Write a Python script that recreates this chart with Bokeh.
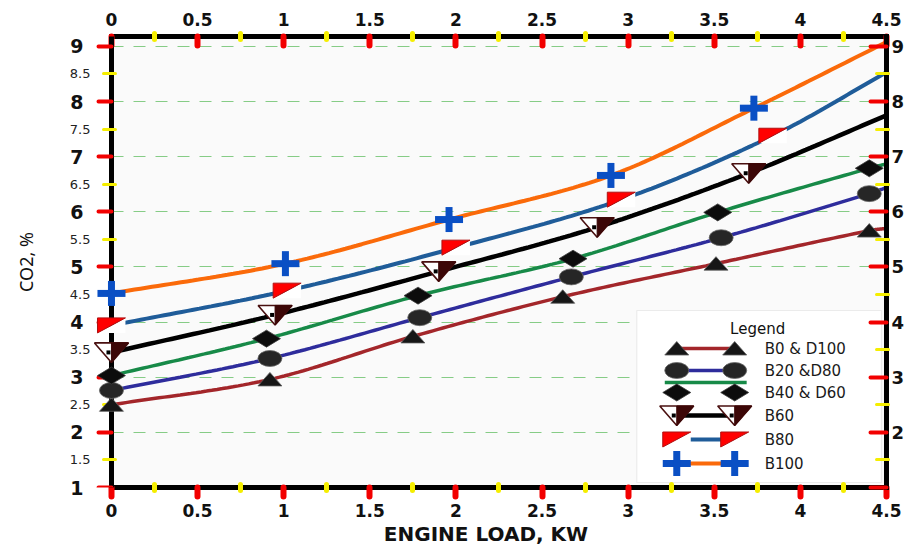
import numpy as np
from bokeh.core.properties import value
from bokeh.embed import file_html
from bokeh.models import (BoxAnnotation, ColumnDataSource, FixedTicker, Label,
                          LabelSet, LinearAxis, Range1d)
from bokeh.plotting import figure
from bokeh.resources import INLINE

# ---- CO2 (%) against engine load (kW) for each fuel blend ----
# the last point of every series lies on the 4.5 kW edge and carries no marker
b0_load = [0.0, 0.92, 1.75, 2.62, 3.51, 4.40, 4.50]
b0_co2 = [2.50, 2.96, 3.74, 4.46, 5.06, 5.66, 5.70]
b20_load = [0.0, 0.92, 1.79, 2.67, 3.54, 4.40, 4.50]
b20_co2 = [2.76, 3.34, 4.08, 4.82, 5.53, 6.33, 6.44]
b40_load = [0.0, 0.90, 1.78, 2.68, 3.52, 4.40, 4.50]
b40_co2 = [3.03, 3.70, 4.48, 5.15, 5.99, 6.79, 6.87]
b60_load = [0.0, 0.95, 1.90, 2.82, 3.70, 4.50]
b60_co2 = [3.45, 4.13, 4.92, 5.72, 6.70, 7.75]
b80_load = [0.0, 1.02, 2.00, 2.96, 3.84, 4.50]
b80_co2 = [3.94, 4.57, 5.35, 6.22, 7.38, 8.53]
b100_load = [0.0, 1.01, 1.96, 2.90, 3.73, 4.50]
b100_co2 = [4.52, 5.06, 5.86, 6.66, 7.88, 9.08]

series_names = ["B0 & D100", "B20 &D80", "B40 & D60", "B60", "B80", "B100"]

x_ticks = [0, 0.5, 1, 1.5, 2, 2.5, 3, 3.5, 4, 4.5]
x_tick_labels = ["0", "0.5", "1", "1.5", "2", "2.5", "3", "3.5", "4", "4.5"]
x_minor_ticks = [0.25, 0.75, 1.25, 1.75, 2.25, 2.75, 3.25, 3.75, 4.25]
y_ticks = [1, 2, 3, 4, 5, 6, 7, 8, 9]
y_tick_labels = ["1", "2", "3", "4", "5", "6", "7", "8", "9"]
y_half_ticks = [1.5, 2.5, 3.5, 4.5, 5.5, 6.5, 7.5, 8.5]
y_half_labels = ["1.5", "2.5", "3.5", "4.5", "5.5", "6.5", "7.5", "8.5"]
y_right_labels = ["", "2", "3", "4", "5", "6", "7", "8", "9"]

# ---- layout ----
W, H = 907, 548
PAD_L = 26                  # room left of the 0 kW line so edge markers show whole
BL, BR, BT, BB = 111 - PAD_L, 20, 36, 61
FW, FH = W - BL - BR, H - BT - BB
X_LO, X_HI = 0.0, 4.5
Y0, Y1 = 1.0, 9.18
UX = (X_HI - X_LO) / (FW - PAD_L)      # data units per screen pixel
UY = (Y1 - Y0) / FH
X_START = X_LO - PAD_L * UX

TICK_FONT = "DejaVu Sans"
RED, YELLOW = "#F20000", "#F5EE00"
INK = "#111111"

p = figure(width=W, height=H, x_range=Range1d(X_START, X_HI), y_range=Range1d(Y0, Y1),
           output_backend="svg", toolbar_location=None,
           min_border_left=BL, min_border_right=BR,
           min_border_top=BT, min_border_bottom=BB)
p.background_fill_color = "white"
p.border_fill_color = "white"
p.outline_line_color = None
p.xgrid.visible = False

# light plot area between the axes
p.add_layout(BoxAnnotation(left=X_LO, right=X_HI, fill_color="#FAFAFA",
                           fill_alpha=1.0, line_color=None, level="image"))

p.ygrid.ticker = FixedTicker(ticks=y_ticks[1:])
p.ygrid.cross_bounds = (X_LO, X_HI)
p.ygrid.grid_line_color = "#86CC86"
p.ygrid.grid_line_width = 1.2
p.ygrid.grid_line_dash = "12 10"


def style_axis(ax, major_in, major_out, major_w, minor_in, minor_out, minor_w,
               major_color=RED, minor_color=YELLOW):
    ax.axis_line_color = "black"
    ax.axis_line_width = 5
    ax.axis_line_cap = "square"
    ax.major_tick_line_color = major_color
    ax.major_tick_line_width = major_w
    ax.major_tick_line_cap = "round"
    ax.major_tick_in = major_in
    ax.major_tick_out = major_out
    ax.minor_tick_line_color = minor_color
    ax.minor_tick_line_width = minor_w
    ax.minor_tick_line_cap = "round"
    ax.minor_tick_in = minor_in
    ax.minor_tick_out = minor_out
    ax.major_label_text_font = TICK_FONT
    ax.major_label_text_font_style = "bold"
    ax.major_label_text_color = INK


def label_only_axis(ticks, labels, size, style, standoff):
    ax = LinearAxis(ticker=FixedTicker(ticks=ticks, minor_ticks=[]),
                    major_label_overrides=dict(zip(ticks, labels)))
    ax.axis_line_color = None
    ax.major_tick_line_color = None
    ax.major_tick_in = 0
    ax.major_tick_out = 0
    ax.minor_tick_line_color = None
    ax.major_label_text_font = TICK_FONT
    ax.major_label_text_font_style = style
    ax.major_label_text_font_size = size
    ax.major_label_text_color = INK
    ax.major_label_standoff = standoff
    return ax


x_over = dict(zip(x_ticks, x_tick_labels))

# bottom axis with the axis title
xb = p.xaxis[0]
xb.ticker = FixedTicker(ticks=x_ticks, minor_ticks=x_minor_ticks)
xb.bounds = (X_LO, X_HI)
xb.major_label_overrides = x_over
style_axis(xb, 0, 9, 6, 3, 3, 5)
xb.major_label_text_font_size = "17px"
xb.major_label_standoff = 7
xb.axis_label = "ENGINE LOAD, KW"
xb.axis_label_text_font = TICK_FONT
xb.axis_label_text_font_size = "20px"
xb.axis_label_text_font_style = "bold"
xb.axis_label_text_color = INK
xb.axis_label_standoff = 2

# top axis
xt = LinearAxis(ticker=FixedTicker(ticks=x_ticks, minor_ticks=x_minor_ticks),
                major_label_overrides=x_over, bounds=(X_LO, X_HI))
style_axis(xt, 9, 0, 6, 3, 3, 5)
xt.major_label_text_font_size = "17px"
xt.major_label_standoff = 8
p.add_layout(xt, "above")

# left side: the axis line sits on the 0 kW line with yellow half-unit ticks
# and red whole-unit ticks; two label axes carry the half-unit and the bold
# whole-unit labels
yl = p.yaxis[0]
yl.fixed_location = X_LO
yl.ticker = FixedTicker(ticks=y_half_ticks, minor_ticks=y_ticks)
yl.major_label_overrides = {t: "" for t in y_half_ticks}
style_axis(yl, 4, 8, 3, 0, 13, 4, major_color=YELLOW, minor_color=RED)
yl.major_label_text_font_size = "1px"
yl.major_label_standoff = 0

yh = label_only_axis(y_half_ticks, y_half_labels, "13px", "normal", -5)
yh.major_label_text_color = "#222222"
p.add_layout(yh, "left")

yo = label_only_axis(y_ticks, y_tick_labels, "19px", "bold", -17)
yo.axis_label = "CO2, %"
yo.axis_label_text_font = "Noto Sans"
yo.axis_label_text_font_size = "18px"
yo.axis_label_text_font_style = "normal"
yo.axis_label_text_color = INK
yo.axis_label_standoff = 29
p.add_layout(yo, "left")

# right axis: ticks drawn inward, bold whole-unit labels
yr = LinearAxis(ticker=FixedTicker(ticks=y_ticks, minor_ticks=y_half_ticks),
                major_label_overrides=dict(zip(y_ticks, y_right_labels)))
style_axis(yr, 16, 0, 4, 10, 2, 3)
yr.major_label_text_font_size = "18px"
yr.major_label_standoff = 3
p.add_layout(yr, "right")


# ---- smooth curves through the points (cubic Hermite in x) ----
def smooth(xs, ys, steps=30):
    x = np.asarray(xs, float)
    y = np.asarray(ys, float)
    n = len(x)
    m = np.empty(n)
    m[0] = (y[1] - y[0]) / (x[1] - x[0])
    m[-1] = (y[-1] - y[-2]) / (x[-1] - x[-2])
    for i in range(1, n - 1):
        m[i] = (y[i + 1] - y[i - 1]) / (x[i + 1] - x[i - 1])
    cx, cy = [], []
    for i in range(n - 1):
        h = x[i + 1] - x[i]
        t = np.linspace(0, 1, steps, endpoint=(i == n - 2))
        h00 = 2 * t**3 - 3 * t**2 + 1
        h10 = t**3 - 2 * t**2 + t
        h01 = -2 * t**3 + 3 * t**2
        h11 = t**3 - t**2
        cx.extend(x[i] + t * h)
        cy.extend(h00 * y[i] + h10 * h * m[i] + h01 * y[i + 1] + h11 * h * m[i + 1])
    return cx, cy


# ---- marker outlines, given in screen pixels around each point ----
TRI = [(-12, -6.5), (12, -6.5), (0, 7)]
DIAMOND = [(-14, 0), (0, 8.5), (14, 0), (0, -8.5)]
INV_TRI = [(-17, 9.5), (17, 9.5), (0, -10)]
INV_TRI_RIGHT = [(0, 9.5), (17, 9.5), (0, -10)]
FLAG_RED = [(-14, 7.5), (14, 7.5), (-14, -7.5)]
FLAG_WHITE = [(14, 7.5), (14, -7.5), (-14, -7.5)]
TOP = dict(level="overlay")   # markers sit on top of the axis lines


def polys(xs, ys, pts):
    px = [[x + ox * UX for ox, _ in pts] for x in xs]
    py = [[y + oy * UY for _, oy in pts] for y in ys]
    return dict(xs=px, ys=py)


def draw_marker(kind, xs, ys):
    if kind == "triangle":
        p.patches("xs", "ys", source=ColumnDataSource(polys(xs, ys, TRI)),
                  fill_color="#161616", line_color="#5a5a5a", line_width=0.8, **TOP)
    elif kind == "circle":
        p.ellipse(x=xs, y=ys, width=24, height=16, width_units="screen",
                  height_units="screen", fill_color="#262626",
                  line_color="#6a6a6a", line_width=0.8, **TOP)
    elif kind == "diamond":
        p.patches("xs", "ys", source=ColumnDataSource(polys(xs, ys, DIAMOND)),
                  fill_color="#0c0c0c", line_color="#3a3a3a", line_width=0.8, **TOP)
    elif kind == "inv_triangle":
        p.patches("xs", "ys", source=ColumnDataSource(polys(xs, ys, INV_TRI)),
                  fill_color="white", line_color="#4a1010", line_width=1.6, **TOP)
        p.patches("xs", "ys", source=ColumnDataSource(polys(xs, ys, INV_TRI_RIGHT)),
                  fill_color="#3c0707", line_color="#3c0707", line_width=1, **TOP)
        p.scatter(x=[x - 3 * UX for x in xs], y=list(ys), marker="square", size=4,
                  fill_color="black", line_color=None, **TOP)
    elif kind == "flag":
        p.patches("xs", "ys", source=ColumnDataSource(polys(xs, ys, FLAG_WHITE)),
                  fill_color="white", line_color=None, **TOP)
        p.patches("xs", "ys", source=ColumnDataSource(polys(xs, ys, FLAG_RED)),
                  fill_color="#FF0000", line_color="#B01010", line_width=1, **TOP)
    elif kind == "plus":
        p.rect(x=xs, y=ys, width=28, height=7, width_units="screen",
               height_units="screen", fill_color="#0A4FC4", line_color=None, **TOP)
        p.rect(x=xs, y=ys, width=7, height=25, width_units="screen",
               height_units="screen", fill_color="#0A4FC4", line_color=None, **TOP)


series = [
    (b0_load, b0_co2, "#A3262A", 3.5, "triangle"),
    (b20_load, b20_co2, "#2E2C9C", 3.5, "circle"),
    (b40_load, b40_co2, "#178A48", 3.5, "diamond"),
    (b60_load, b60_co2, "#000000", 4.5, "inv_triangle"),
    (b80_load, b80_co2, "#1F5C99", 4.0, "flag"),
    (b100_load, b100_co2, "#FA6A0A", 4.0, "plus"),
]

for xs, ys, color, lw, _ in series:
    cx, cy = smooth(xs, ys)
    p.line(cx, cy, line_color=color, line_width=lw)
for xs, ys, _, _, kind in series:
    draw_marker(kind, xs[:-1], ys[:-1])

# ---- legend box (positions in pixels from the 0 kW line and the frame top) ----
LEG_L, LEG_T, LEG_W, LEG_H = 526, 274, 245, 172
ROW_OFF = [38, 60, 82, 105, 129, 153]
MK_A, MK_B, TXT_X = 40, 98, 128


def fx(px):
    return X_LO + px * UX


def fy(py):
    return Y1 - py * UY


p.add_layout(BoxAnnotation(left=fx(LEG_L), right=fx(LEG_L + LEG_W),
                           top=fy(LEG_T), bottom=fy(LEG_T + LEG_H),
                           fill_color="white", fill_alpha=1.0,
                           line_color="#C4C4C4", line_width=1.2, level="underlay"))
p.add_layout(Label(x=fx(LEG_L + 121), y=fy(LEG_T + 18), text="Legend",
                   text_align="center", text_baseline="middle",
                   text_font=TICK_FONT, text_font_size="15px", text_color=INK))

for (xs, ys, color, lw, kind), off in zip(series, ROW_OFF):
    ry = fy(LEG_T + off)
    xa, xb_ = fx(LEG_L + MK_A), fx(LEG_L + MK_B)
    line_y = ry + 10 * UY if kind == "diamond" else ry
    line_x0 = fx(LEG_L + MK_A - 12) if kind == "diamond" else xa
    line_x1 = fx(LEG_L + MK_B + 12) if kind == "diamond" else xb_
    p.line([line_x0, line_x1], [line_y, line_y], line_color=color, line_width=lw)
    draw_marker(kind, [xa, xb_], [ry, ry])

leg_src = ColumnDataSource(dict(x=[fx(LEG_L + TXT_X)] * len(series_names),
                                y=[fy(LEG_T + o) for o in ROW_OFF], t=series_names))
p.add_layout(LabelSet(x="x", y="y", text="t", source=leg_src,
                      text_align="left", text_baseline="middle",
                      text_font=value(TICK_FONT), text_font_size="15px",
                      text_color="#1a1a1a"))

open("out.html", "w").write(file_html(p, INLINE))
